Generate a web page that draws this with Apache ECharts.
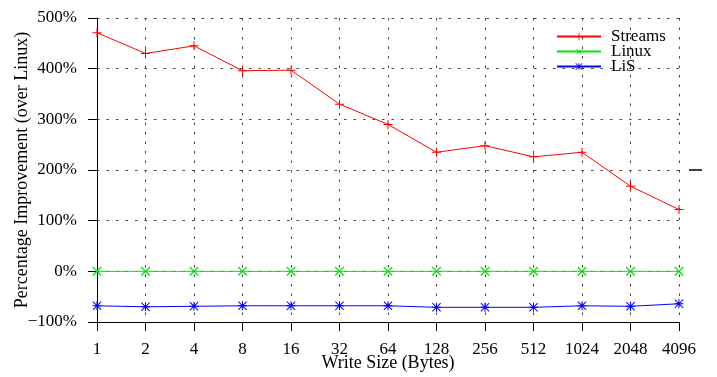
<!DOCTYPE html>
<html>
<head>
<meta charset="utf-8">
<script src="https://cdn.jsdelivr.net/npm/echarts@6/dist/echarts.min.js"></script>
<style>
  html, body { margin: 0; padding: 0; background: #fff; }
  #chart { width: 717px; height: 377px; }
</style>
</head>
<body>
<div id="chart"></div>
<script>
// Write sizes in bytes (x categories)
const writeSizes = ['1', '2', '4', '8', '16', '32', '64', '128', '256', '512', '1024', '2048', '4096'];

// Percentage improvement over Linux for each implementation
const streamsValues = [471, 430, 445, 396, 397, 330, 290, 235, 248, 226, 235, 168, 122];
const linuxValues   = [0, 0, 0, 0, 0, 0, 0, 0, 0, 0, 0, 0, 0];
const lisValues     = [-68, -70, -69, -68, -68, -68, -68, -71, -71, -71, -68, -69, -64];

const seriesNames = ['Streams', 'Linux', 'LiS'];

// Y axis range and step (percent)
const yMin = -100;
const yMax = 500;
const yStep = 100;

// Point markers: plus, cross (rotated plus) and star
const plusPath = 'path://M4,0h1v4h4v1h-4v4h-1v-4h-4v-1h4z';
const starPath = 'path://M4,0h1v4h4v1h-4v4h-1v-4h-4v-1h4z' +
  'M0,0.7L0.7,0L9,8.3L8.3,9Z' +
  'M8.3,0L9,0.7L0.7,9L0,8.3Z';

const serif = '"Liberation Serif", "Times New Roman", serif';
const dotted = { color: '#444', width: 1, type: [2.5, 7] };

const chart = echarts.init(document.getElementById('chart'));

function makeSeries(name, data, color, symbol, size, rotate) {
  return {
    name: name,
    type: 'line',
    data: data,
    symbol: symbol,
    symbolSize: size,
    symbolRotate: rotate,
    showAllSymbol: true,
    lineStyle: { color: color, width: 1 },
    itemStyle: { color: color, borderWidth: 0 },
    emphasis: { disabled: true },
    animation: false,
    z: 3
  };
}

chart.setOption({
  animation: false,
  grid: { left: 97, right: 38, top: 18, bottom: 55, containLabel: false, outerBoundsMode: 'none' },
  legend: {
    orient: 'vertical',
    left: 551,
    top: 23,
    itemWidth: 44,
    itemHeight: 9,
    itemGap: -2,
    textStyle: {
      fontFamily: serif,
      fontSize: 17,
      color: '#000',
      lineHeight: 14,
      padding: [0, 0, 0, 5]
    },
    data: seriesNames
  },
  xAxis: {
    type: 'category',
    data: writeSizes,
    boundaryGap: false,
    name: 'Write Size (Bytes)',
    nameLocation: 'middle',
    nameGap: 32,
    nameMoveOverlap: false,
    nameTextStyle: { fontFamily: serif, fontSize: 18, color: '#000' },
    axisLine: { show: true, onZero: false, lineStyle: { color: '#000', width: 1 } },
    axisTick: { show: true, length: 9, interval: 0, alignWithLabel: true, lineStyle: { color: '#000' } },
    axisLabel: { fontFamily: serif, fontSize: 17, color: '#000', margin: 19, interval: 0 },
    splitLine: { show: true, interval: 0, lineStyle: dotted }
  },
  yAxis: {
    type: 'value',
    min: yMin,
    max: yMax,
    interval: yStep,
    name: 'Percentage Improvement (over Linux)',
    nameLocation: 'middle',
    nameGap: 66,
    nameMoveOverlap: false,
    nameTextStyle: { fontFamily: serif, fontSize: 18, color: '#000' },
    axisLine: { show: true, lineStyle: { color: '#000', width: 1 } },
    axisTick: { show: true, length: 9, lineStyle: { color: '#000' } },
    axisLabel: {
      fontFamily: serif, fontSize: 17, color: '#000', margin: 20,
      formatter: v => (v < 0 ? '\u2212' + Math.abs(v) : v) + '%'
    },
    splitLine: { show: true, showMinLine: false, lineStyle: dotted }
  },
  series: [
    makeSeries(seriesNames[0], streamsValues, '#ff0000', plusPath, 9, 0),
    makeSeries(seriesNames[1], linuxValues, '#00e600', plusPath, 12, 45),
    makeSeries(seriesNames[2], lisValues, '#0000ff', starPath, 9, 0)
  ]
});

// Stray right-hand tick mark at the 200% level
const tickY = chart.convertToPixel({ yAxisIndex: 0 }, 200);
const rightX = chart.convertToPixel({ xAxisIndex: 0 }, writeSizes.length - 1);
chart.setOption({
  graphic: [{
    type: 'line',
    shape: { x1: rightX + 10, y1: tickY, x2: rightX + 23, y2: tickY },
    style: { stroke: '#000', lineWidth: 1.5 },
    silent: true
  }]
});
</script>
</body>
</html>
